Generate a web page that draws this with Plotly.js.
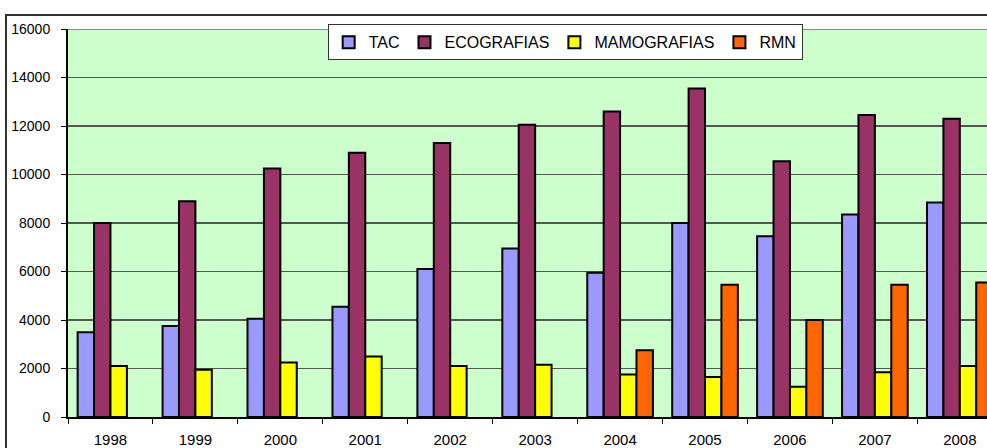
<!DOCTYPE html>
<html>
<head>
<meta charset="utf-8">
<script src="https://cdn.plot.ly/plotly-3.0.1.min.js"></script>
<style>
  html, body { margin: 0; padding: 0; width: 987px; height: 448px; overflow: hidden; background: #fff; }
  #frame { position: absolute; left: 5px; top: 14px; width: 990px; height: 440px;
           border-left: 2px solid #333; border-top: 2px solid #333; }
  #chart { position: absolute; left: 0; top: 0; width: 987px; height: 448px; }
</style>
</head>
<body>
<div id="frame"></div>
<div id="chart"></div>
<script>
const years = ['1998','1999','2000','2001','2002','2003','2004','2005','2006','2007','2008'];
const seriesNames = ['TAC', 'ECOGRAFIAS', 'MAMOGRAFIAS', 'RMN'];
const tac = [3500, 3750, 4050, 4550, 6100, 6950, 5950, 8000, 7450, 8350, 8850];
const ecografias = [8000, 8900, 10250, 10900, 11300, 12050, 12600, 13550, 10550, 12450, 12300];
const mamografias = [2100, 1950, 2250, 2500, 2100, 2150, 1750, 1650, 1250, 1850, 2100];
const rmn = [null, null, null, null, null, null, 2750, 5450, 4000, 5450, 5550];
const yTicks = [0, 2000, 4000, 6000, 8000, 10000, 12000, 14000, 16000];

const colors = ['#9999FF', '#993366', '#FFFF00', '#FF6600'];
const values = [tac, ecografias, mamografias, rmn];

const data = values.map((v, i) => ({
  type: 'bar',
  name: seriesNames[i],
  x: years,
  y: v,
  marker: { color: colors[i], line: { color: '#000', width: 2 } },
  hoverinfo: 'x+y+name'
}));

const font = 'Arial, "Liberation Sans", sans-serif';

const layout = {
  width: 987,
  height: 448,
  margin: { l: 68, r: 0, t: 29, b: 31, pad: 0 },
  paper_bgcolor: 'rgba(0,0,0,0)',
  plot_bgcolor: '#CCFFCC',
  barmode: 'group',
  bargap: 0.227,
  bargroupgap: 0,
  font: { family: font, color: '#000', size: 13 },
  showlegend: true,
  legend: {
    orientation: 'h',
    x: 0.541, xanchor: 'center',
    y: 1.012, yanchor: 'top',
    bgcolor: '#FFFFFF',
    bordercolor: '#333',
    borderwidth: 1,
    itemwidth: 30,
    font: { family: font, size: 16, color: '#000' },
    traceorder: 'normal'
  },
  shapes: [{
    type: 'line', xref: 'paper', yref: 'y', x0: 0, x1: 1, y0: 16000, y1: 16000,
    line: { color: '#8a8a8a', width: 2 }, layer: 'above'
  }],
  xaxis: {
    type: 'category',
    range: [-0.5, 10.32],
    tickson: 'boundaries',
    ticks: 'outside',
    ticklen: 5,
    tickwidth: 1,
    tickcolor: '#000',
    showline: true,
    linecolor: '#000',
    linewidth: 2,
    showgrid: false,
    zeroline: false,
    ticklabelstandoff: 8,
    tickfont: { family: font, size: 15, color: '#000' },
    fixedrange: true
  },
  yaxis: {
    range: [0, 16000],
    tickvals: yTicks,
    ticktext: yTicks.map(String),
    ticks: 'outside',
    ticklen: 5,
    tickwidth: 1,
    tickcolor: '#000',
    showline: true,
    linecolor: '#000',
    linewidth: 2,
    showgrid: true,
    gridcolor: '#555',
    gridwidth: 1.5,
    zeroline: false,
    ticklabelstandoff: 8,
    tickfont: { family: font, size: 14, color: '#000' },
    fixedrange: true
  }
};

Plotly.newPlot('chart', data, layout, { displayModeBar: false, staticPlot: true });
</script>
</body>
</html>
